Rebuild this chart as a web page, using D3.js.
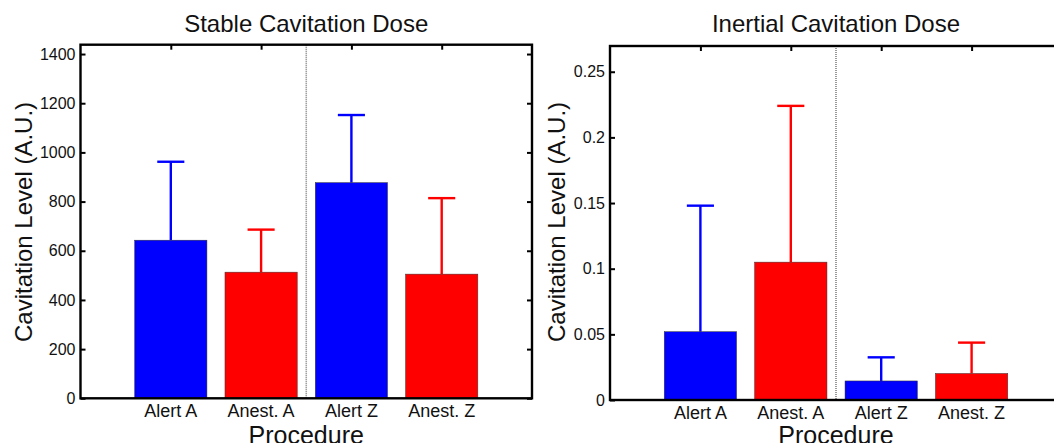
<!DOCTYPE html>
<html lang="en">
<head>
  <meta charset="UTF-8">
  <title>Cavitation Dose</title>
  <script src="https://d3js.org/d3.v7.min.js"></script>
  <style>
    html, body { margin: 0; padding: 0; background: #fff; overflow: hidden; }
    svg { display: block; }
    svg text { font-family: "Liberation Sans", Arial, sans-serif; fill: #111; }
    .tick text { font-size: 16px; }
    .cat { font-size: 18px; text-anchor: middle; }
    .title { font-size: 24px; text-anchor: middle; }
    .xlabel { font-size: 25px; text-anchor: middle; }
    .ylabel { font-size: 24px; text-anchor: middle; }
  </style>
</head>
<body>
  <div id="chart"></div>

  <script>
    // data
    const categories = ["Alert A", "Anest. A", "Alert Z", "Anest. Z"];
    const barColors = ["#0000ff", "#ff0000", "#0000ff", "#ff0000"];

    const stableMean = [643, 513, 877, 505];
    const stableUpper = [962, 686, 1152, 814];
    const stableTicks = [0, 200, 400, 600, 800, 1000, 1200, 1400];

    const inertialMean = [0.052, 0.105, 0.0145, 0.0202];
    const inertialUpper = [0.148, 0.224, 0.0325, 0.0437];
    const inertialTicks = [0, 0.05, 0.1, 0.15, 0.2, 0.25];

    const svg = d3.select("#chart")
      .append("svg")
      .attr("width", 1054)
      .attr("height", 443);

    function drawPanel(p) {
      const g = svg.append("g")
        .attr("transform", `translate(${p.left}, ${p.top})`);

      // x runs 0..5 with bars at 1..4, like the original plot
      const x = d3.scaleLinear().domain([0, 5]).range([0, p.width]);
      const y = d3.scaleLinear().domain([0, p.yMax]).range([p.height, 0]);
      const bw = x(0.8) - x(0);
      const cap = x(0.3) - x(0);

      const data = categories.map((c, i) => ({
        cat: c, pos: i + 1, mean: p.mean[i], upper: p.upper[i], color: barColors[i]
      }));

      // separator between A and Z
      g.append("line")
        .attr("x1", x(2.5)).attr("x2", x(2.5))
        .attr("y1", 0).attr("y2", p.height)
        .attr("stroke", "#808080")
        .attr("stroke-width", 1.6)
        .attr("stroke-dasharray", "1,1");

      // error bars (upper only)
      g.selectAll(".err")
        .data(data)
        .enter()
        .append("line")
        .attr("x1", d => x(d.pos)).attr("x2", d => x(d.pos))
        .attr("y1", d => y(d.mean)).attr("y2", d => y(d.upper))
        .attr("stroke", d => d.color)
        .attr("stroke-width", 2.4);

      g.selectAll(".cap")
        .data(data)
        .enter()
        .append("line")
        .attr("x1", d => x(d.pos) - cap / 2).attr("x2", d => x(d.pos) + cap / 2)
        .attr("y1", d => y(d.upper)).attr("y2", d => y(d.upper))
        .attr("stroke", d => d.color)
        .attr("stroke-width", 2.4);

      g.selectAll(".bar")
        .data(data)
        .enter()
        .append("rect")
        .attr("x", d => x(d.pos) - bw / 2)
        .attr("y", d => y(d.mean))
        .attr("width", bw)
        .attr("height", d => p.height - y(d.mean))
        .attr("fill", d => d.color)
        .attr("stroke", "#333")
        .attr("stroke-width", 0.5);

      // y axis, inward ticks, left and right
      g.append("g")
        .call(d3.axisLeft(y).tickValues(p.ticks).tickFormat(p.fmt)
          .tickSizeInner(-5).tickSizeOuter(0).tickPadding(5))
        .call(a => a.select(".domain").remove())
        .call(a => a.selectAll("line").attr("stroke", "#000").attr("stroke-width", 2));

      g.append("g")
        .attr("transform", `translate(${p.width}, 0)`)
        .call(d3.axisRight(y).tickValues(p.ticks).tickFormat("")
          .tickSizeInner(-5).tickSizeOuter(0))
        .call(a => a.select(".domain").remove())
        .call(a => a.selectAll("line").attr("stroke", "#000").attr("stroke-width", 2));

      // top ticks
      g.append("g")
        .call(d3.axisTop(x).tickValues([1, 2, 3, 4]).tickFormat("")
          .tickSizeInner(-5).tickSizeOuter(0))
        .call(a => a.select(".domain").remove())
        .call(a => a.selectAll("line").attr("stroke", "#000").attr("stroke-width", 2));

      // frame
      g.append("rect")
        .attr("width", p.width)
        .attr("height", p.height)
        .attr("fill", "none")
        .attr("stroke", "#000")
        .attr("stroke-width", 2.4);

      g.selectAll(".cat")
        .data(data)
        .enter()
        .append("text")
        .attr("class", "cat")
        .attr("x", d => x(d.pos))
        .attr("y", p.height + 19)
        .text(d => d.cat);

      g.append("text")
        .attr("class", "title")
        .attr("x", p.width / 2)
        .attr("y", 32 - p.top)
        .text(p.title);

      g.append("text")
        .attr("class", "xlabel")
        .attr("x", x(2.5))
        .attr("y", 444 - p.top)
        .text("Procedure");

      g.append("text")
        .attr("class", "ylabel")
        .attr("transform", `translate(${p.ylabelX - p.left}, ${222 - p.top}) rotate(-90)`)
        .attr("dy", "0.35em")
        .text("Cavitation Level (A.U.)");
    }

    drawPanel({
      left: 80.5, top: 44.7, width: 451.5, height: 353.6,
      yMax: 1438, ticks: stableTicks, fmt: d3.format("d"),
      mean: stableMean, upper: stableUpper,
      title: "Stable Cavitation Dose", ylabelX: 24
    });

    // right panel runs past the edge of the picture
    drawPanel({
      left: 610, top: 46, width: 452, height: 354,
      yMax: 0.2696, ticks: inertialTicks, fmt: d => d === 0 ? "0" : String(d),
      mean: inertialMean, upper: inertialUpper,
      title: "Inertial Cavitation Dose", ylabelX: 557
    });
  </script>
</body>
</html>
